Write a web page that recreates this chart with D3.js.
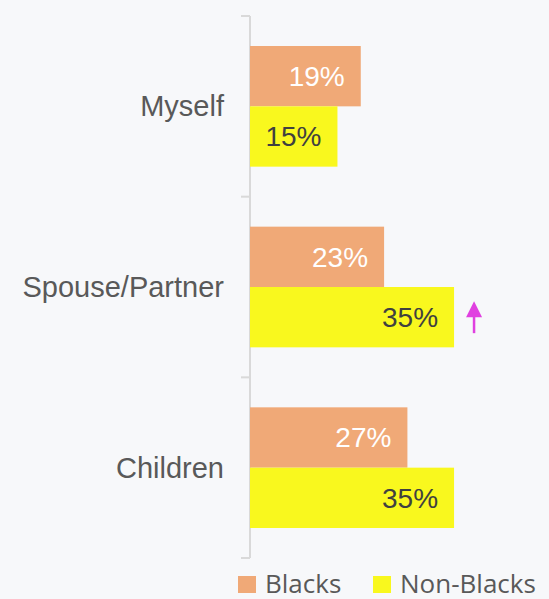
<!DOCTYPE html>
<html>
<head>
<meta charset="utf-8">
<script src="https://cdn.jsdelivr.net/npm/d3@7"></script>
<style>
  html, body { margin: 0; padding: 0; background: #f7f8fa; }
  svg { display: block; }
</style>
</head>
<body>
<div id="chart"></div>
<script>
const categories = ["Myself", "Spouse/Partner", "Children"]
const seriesNames = ["Blacks", "Non-Blacks"]
const blacks = [19, 23, 27]
const nonBlacks = [15, 35, 35]
// category index that gets the upward arrow marker
const arrowAt = [1]

const width = 549
const height = 599

const colors = { "Blacks": "#f0a977", "Non-Blacks": "#f9f81e" }
const labelColors = { "Blacks": "#ffffff", "Non-Blacks": "#404040" }

const svg = d3.select("#chart")
  .append("svg")
  .attr("width", width)
  .attr("height", height)

svg.append("rect")
  .attr("width", width)
  .attr("height", height)
  .attr("fill", "#f7f8fa")

const x = d3.scaleLinear().domain([0, 50]).range([250, 541.5])

const y = d3.scaleBand()
  .domain(categories)
  .range([16, 558])

const ySub = d3.scaleBand()
  .domain(seriesNames)
  .range([30, y.bandwidth() - 30])

const rows = categories.map((c, i) => ({
  category: c,
  values: [
    { series: "Blacks", value: blacks[i] },
    { series: "Non-Blacks", value: nonBlacks[i] }
  ]
}))

// axis: vertical line with outward ticks at band edges
const axis = svg.append("g").attr("stroke", "#d9d9d9").attr("stroke-width", 2)
axis.append("line")
  .attr("x1", x(0)).attr("x2", x(0))
  .attr("y1", y.range()[0]).attr("y2", y.range()[1])
const edges = categories.map(c => y(c)).concat([y.range()[1]])
axis.selectAll("line.tick")
  .data(edges)
  .join("line")
  .attr("class", "tick")
  .attr("x1", x(0) - 9).attr("x2", x(0))
  .attr("y1", d => d).attr("y2", d => d)

// category labels
svg.append("g")
  .selectAll("text")
  .data(categories)
  .join("text")
  .text(d => d)
  .attr("x", x(0) - 26)
  .attr("y", d => y(d) + y.bandwidth() / 2)
  .attr("dy", "0.35em")
  .attr("text-anchor", "end")
  .attr("font-family", "Liberation Sans, Arial, sans-serif")
  .attr("font-size", 29)
  .attr("fill", "#595959")

const group = svg.append("g")
  .selectAll("g")
  .data(rows)
  .join("g")
  .attr("transform", d => `translate(0,${y(d.category)})`)

group.selectAll("rect")
  .data(d => d.values)
  .join("rect")
  .attr("x", x(0))
  .attr("y", d => ySub(d.series))
  .attr("width", d => x(d.value) - x(0))
  .attr("height", ySub.bandwidth())
  .attr("fill", d => colors[d.series])

group.selectAll("text")
  .data(d => d.values)
  .join("text")
  .text(d => d.value + "%")
  .attr("x", d => x(d.value) - 16)
  .attr("y", d => ySub(d.series) + ySub.bandwidth() / 2)
  .attr("dy", "0.35em")
  .attr("text-anchor", "end")
  .attr("font-family", "Liberation Sans, Arial, sans-serif")
  .attr("font-size", 28)
  .attr("fill", d => labelColors[d.series])

// magenta up arrow next to the flagged Non-Blacks bar
const arrow = svg.append("g")
  .selectAll("g")
  .data(arrowAt)
  .join("g")
  .attr("transform", i => `translate(${x(nonBlacks[i]) + 20},${y(categories[i]) + ySub("Non-Blacks") + ySub.bandwidth() / 2})`)
arrow.append("path")
  .attr("d", "M0,-16L8,0L-8,0Z")
  .attr("fill", "#e040e0")
arrow.append("line")
  .attr("x1", 0).attr("x2", 0)
  .attr("y1", -1).attr("y2", 16)
  .attr("stroke", "#e040e0")
  .attr("stroke-width", 2.5)

// legend
const legend = svg.append("g")
  .selectAll("g")
  .data(seriesNames)
  .join("g")
  .attr("transform", (d, i) => `translate(${[238, 373][i]},576)`)
legend.append("rect")
  .attr("width", 18)
  .attr("height", 17)
  .attr("fill", d => colors[d])
legend.append("text")
  .text(d => d)
  .attr("x", 27)
  .attr("y", 16.5)
  .attr("font-family", "Open Sans, sans-serif")
  .attr("font-size", 26)
  .attr("fill", "#595959")
</script>
</body>
</html>
